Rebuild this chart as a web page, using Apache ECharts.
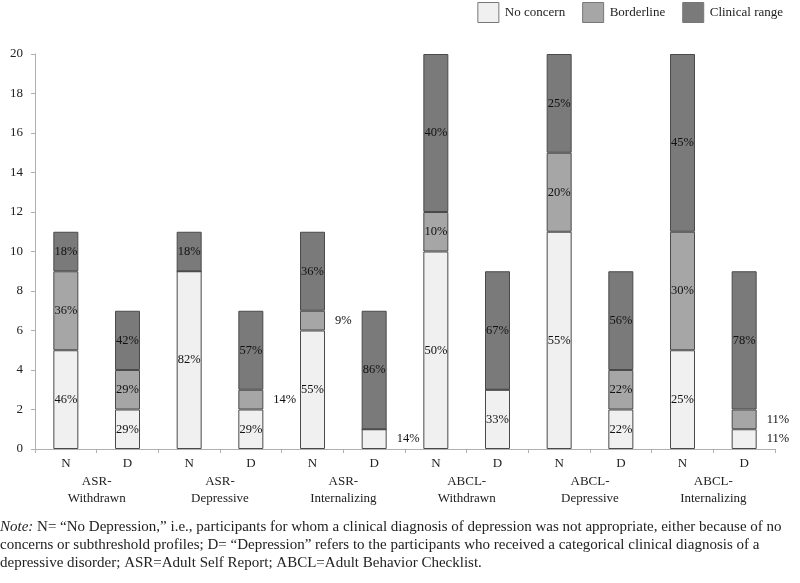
<!DOCTYPE html>
<html><head><meta charset="utf-8">
<script src="https://cdn.jsdelivr.net/npm/echarts@6/dist/echarts.min.js"></script>
<style>html,body{margin:0;padding:0;background:#fff}#c{width:800px;height:583px}</style>
</head><body><div id="c"></div>
<script>
const barLabels = ['N','D','N','D','N','D','N','D','N','D','N','D'];
const groups = ['ASR-\nWithdrawn','ASR-\nDepressive','ASR-\nInternalizing','ABCL-\nWithdrawn','ABCL-\nDepressive','ABCL-\nInternalizing'];
const noConcern  = [5, 2, 9, 2, 6, 1, 10, 3, 11, 2, 5, 1];
const borderline = [4, 2, 0, 1, 1, 0, 2, 0, 4, 2, 6, 1];
const clinical   = [2, 3, 2, 4, 4, 6, 8, 6, 5, 5, 9, 7];
const noConcernPct  = ['46%','29%','82%','29%','55%','14%','50%','33%','55%','22%','25%','11%'];
const borderlinePct = ['36%','29%','','14%','9%','','10%','','20%','22%','30%','11%'];
const clinicalPct   = ['18%','42%','18%','57%','36%','86%','40%','67%','25%','56%','45%','78%'];
const yTicks = [0, 2, 4, 6, 8, 10, 12, 14, 16, 18, 20];

const FONT = '"Liberation Serif", "DejaVu Serif", serif';
const colors = ['#f0f0f0', '#a6a6a6', '#7a7a7a'];

function buildData(vals, pcts) {
  return vals.map((v, i) => {
    if (v <= 0) return { value: v, label: { show: false } };
    const item = { value: v, label: { formatter: pcts[i] } };
    if (v <= 1) { item.label.position = 'right'; item.label.distance = 10; }
    return item;
  });
}

function series(name, vals, pcts, color) {
  return {
    name, type: 'bar', stack: 'all', barWidth: 25, xAxisIndex: 0,
    itemStyle: { color, borderColor: '#4a4a4a', borderWidth: 1 },
    label: { show: true, position: 'inside', fontFamily: FONT, fontSize: 12.5, color: '#111' },
    emphasis: { disabled: true },
    data: buildData(vals, pcts)
  };
}

const chart = echarts.init(document.getElementById('c'), null, { renderer: 'canvas' });
chart.setOption({
  animation: false,
  backgroundColor: '#fff',
  textStyle: { fontFamily: FONT },
  legend: {
    top: 2, right: 17, padding: 0, itemWidth: 21, itemHeight: 20, itemGap: 17,
    icon: 'rect',
    textStyle: { fontFamily: FONT, fontSize: 13, color: '#222', padding: [0, 0, 0, 1] },
    itemStyle: { borderColor: '#777', borderWidth: 1 },
    data: ['No concern', 'Borderline', 'Clinical range']
  },
  grid: { left: 35, right: 25, top: 54, bottom: 134, containLabel: false },
  xAxis: [
    {
      type: 'category', data: barLabels, position: 'bottom',
      axisLine: { lineStyle: { color: '#b0b0b0' } },
      axisTick: { show: true, interval: 0, alignWithLabel: false, length: 4, lineStyle: { color: '#b0b0b0' } },
      axisLabel: { fontFamily: FONT, fontSize: 13, color: '#222', margin: 8, interval: 0 }
    },
    {
      type: 'category', data: groups, position: 'bottom',
      axisLine: { show: false }, axisTick: { show: false },
      axisLabel: { fontFamily: FONT, fontSize: 13, color: '#222', margin: 24, lineHeight: 17, interval: 0, align: 'center' }
    }
  ],
  yAxis: {
    type: 'value', min: yTicks[0], max: yTicks[yTicks.length - 1], interval: 2,
    axisLine: { show: true, lineStyle: { color: '#b0b0b0' } },
    axisTick: { show: true, length: 4, lineStyle: { color: '#b0b0b0' } },
    splitLine: { show: false },
    axisLabel: { fontFamily: FONT, fontSize: 13, color: '#222', margin: 12 }
  },
  series: [
    series('No concern', noConcern, noConcernPct, colors[0]),
    series('Borderline', borderline, borderlinePct, colors[1]),
    series('Clinical range', clinical, clinicalPct, colors[2]),
    { type: 'bar', xAxisIndex: 1, data: [], silent: true }
  ],
  graphic: [{
    type: 'text', left: 0, top: 518,
    style: {
      text: '{i|Note:} N= \u201cNo Depression,\u201d i.e., participants for whom a clinical diagnosis of depression was not appropriate, either because of no\nconcerns or subthreshold profiles; D= \u201cDepression\u201d refers to the participants who received a categorical clinical diagnosis of a\ndepressive disorder; ASR=Adult Self Report; ABCL=Adult Behavior Checklist.',
      font: '15px ' + FONT, fill: '#222', lineHeight: 18,
      rich: { i: { fontStyle: 'italic', fontFamily: FONT, fontSize: 15, fill: '#222', lineHeight: 18 } }
    }
  }]
});
</script></body></html>
